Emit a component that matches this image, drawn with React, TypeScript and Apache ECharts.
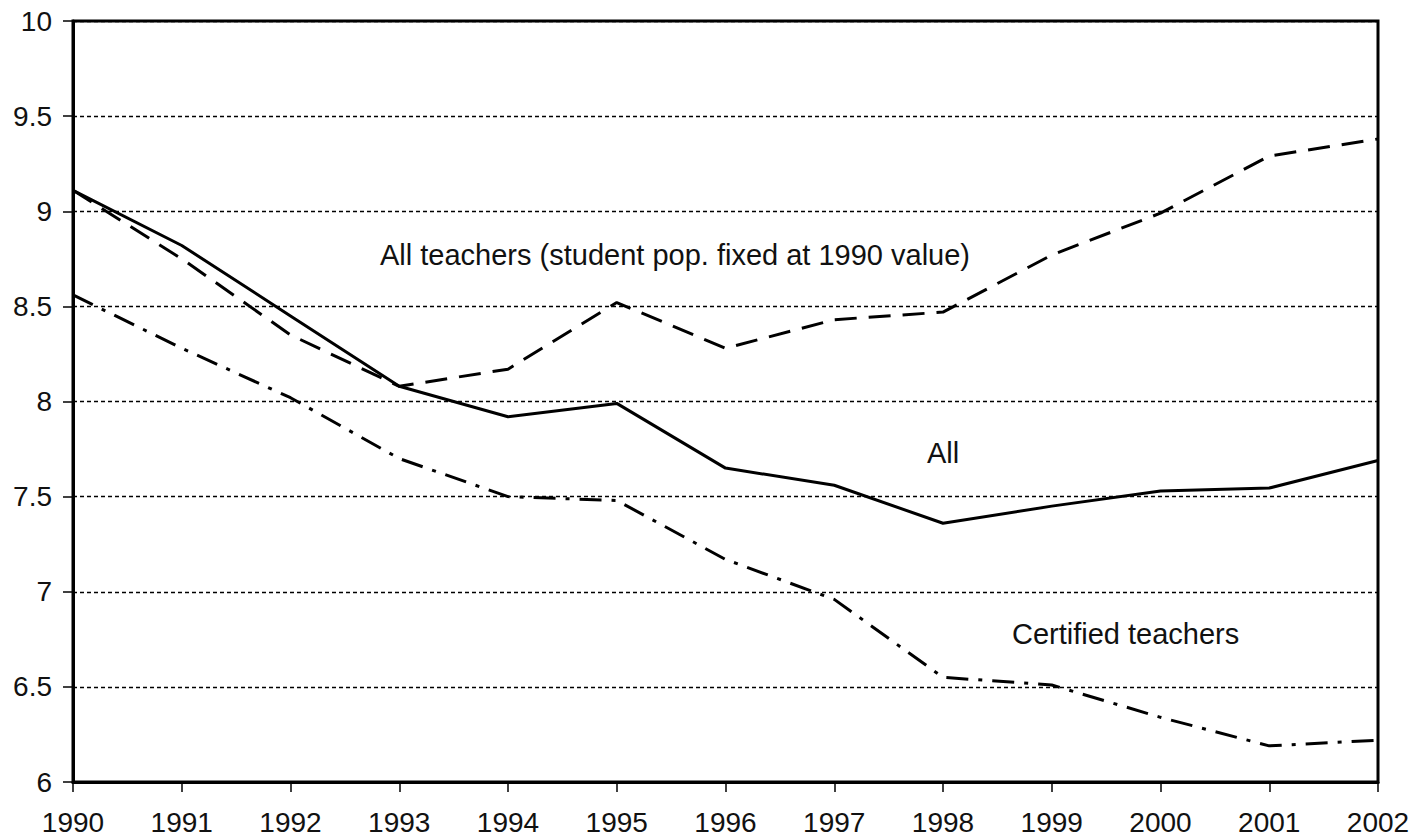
import React, { useEffect, useRef } from "react";
import * as echarts from "echarts";

const years = ["1990","1991","1992","1993","1994","1995","1996","1997","1998","1999","2000","2001","2002"];
const allTeachers = [9.11, 8.82, 8.45, 8.08, 7.92, 7.99, 7.65, 7.56, 7.36, 7.45, 7.53, 7.545, 7.69];
const fixedPop = [9.11, 8.75, 8.35, 8.08, 8.17, 8.52, 8.28, 8.43, 8.47, 8.77, 8.99, 9.29, 9.38];
const certified = [8.56, 8.28, 8.02, 7.70, 7.50, 7.48, 7.17, 6.96, 6.55, 6.51, 6.34, 6.19, 6.22];

const FONT = "'Liberation Sans', Arial, sans-serif";

export default function App() {
  const ref = useRef<HTMLDivElement>(null);
  useEffect(() => {
    if (!ref.current) return;
    const chart = echarts.init(ref.current, null, { renderer: "svg" });
    const lineBase = { type: "line", symbol: "none", silent: true };
    const note = (text: string, x: number, y: number) => ({
      type: "text",
      x,
      y,
      style: { text, fontSize: 29, fontFamily: FONT, fill: "#111", verticalAlign: "middle", align: "left" },
    });
    chart.setOption({
      animation: false,
      backgroundColor: "#fff",
      textStyle: { fontFamily: FONT },
      grid: { left: 73, right: 41, top: 21, bottom: 57, show: true, borderColor: "#000", borderWidth: 3, backgroundColor: "transparent" },
      xAxis: {
        type: "category",
        data: years,
        boundaryGap: false,
        axisLine: { lineStyle: { color: "#000", width: 3 } },
        axisTick: { show: true, length: 10, alignWithLabel: true, lineStyle: { color: "#000", width: 1.5 } },
        axisLabel: { color: "#111", fontSize: 28, fontFamily: FONT, margin: 26 },
        splitLine: { show: false },
      },
      yAxis: {
        type: "value",
        min: 6,
        max: 10,
        interval: 0.5,
        axisLine: { show: true, lineStyle: { color: "#000", width: 3 } },
        axisTick: { show: true, length: 10, lineStyle: { color: "#000", width: 1.5 } },
        axisLabel: { color: "#111", fontSize: 28, fontFamily: FONT, margin: 21 },
        splitLine: { show: true, lineStyle: { color: "#000", width: 1.3, type: [4, 3] } },
      },
      series: [
        { ...lineBase, name: "All", data: allTeachers, lineStyle: { color: "#000", width: 3 } },
        { ...lineBase, name: "All teachers (student pop. fixed at 1990 value)", data: fixedPop, lineStyle: { color: "#000", width: 3, type: [22, 12] } },
        { ...lineBase, name: "Certified teachers", data: certified, lineStyle: { color: "#000", width: 3, type: [22, 10, 4, 10] } },
      ],
      graphic: [
        note("All teachers (student pop. fixed at 1990 value)", 380, 255),
        note("All", 927, 453),
        note("Certified teachers", 1012, 634),
      ],
    });
    return () => chart.dispose();
  }, []);
  return <div ref={ref} style={{ width: 1419, height: 839, position: "absolute", left: 0, top: 0 }} />;
}
